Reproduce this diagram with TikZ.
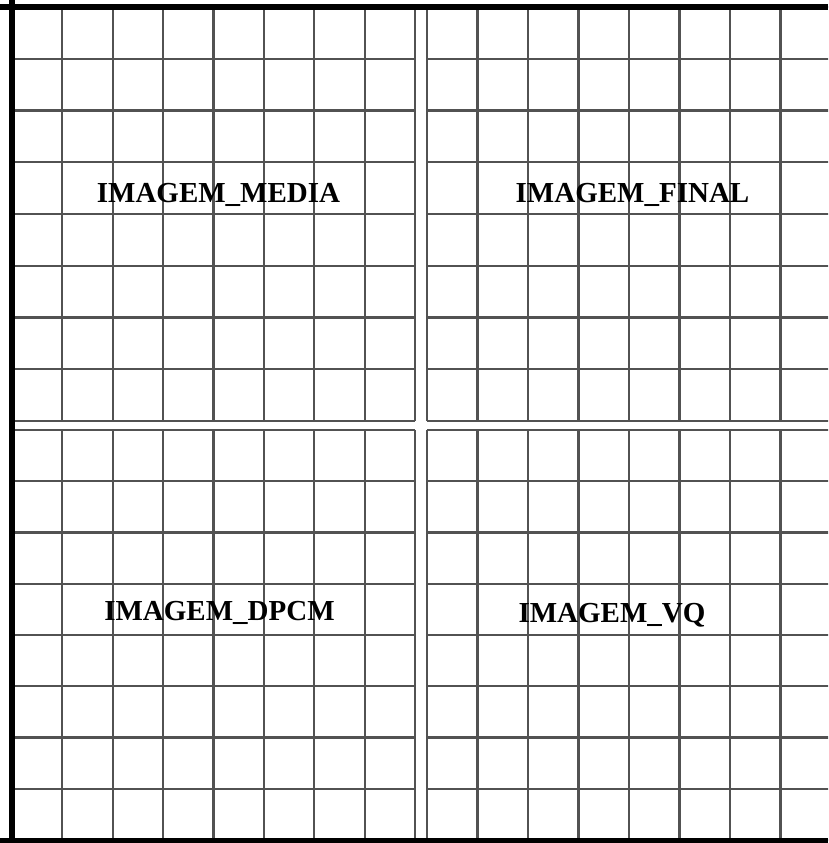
\documentclass[tikz,border=0pt]{standalone}
\usepackage{fontspec}
\setmainfont{Liberation Serif}
\tikzset{
  grade/.style={draw=black!68,line width=2.2pt},
  borda/.style={draw=black,line width=6pt},
  rotulo/.style={font=\bfseries\fontsize{29}{31}\selectfont,anchor=base,inner sep=0pt}
}
\begin{document}
\begin{tikzpicture}[x=1pt,y=-1pt]
\useasboundingbox (0,0) rectangle (828,843);
\clip (0,0) rectangle (828,843);

\foreach \xa/\ya/\xb/\yb in {12/7/415/421, 427/7/831/421, 12/430/415/840, 427/430/831/840} {
  \foreach \i in {0,...,8} {
    \pgfmathsetmacro\xx{\xa+\i*(\xb-\xa)/8}
    \pgfmathsetmacro\yy{\ya+\i*(\yb-\ya)/8}
    \draw[grade] (\xx,\ya) -- (\xx,\yb);
    \draw[grade] (\xa,\yy) -- (\xb,\yy);
  }
}

\draw[borda] (12,0) -- (12,843);
\draw[borda] (0,7) -- (828,7);
\draw[borda,line width=5pt] (0,840.5) -- (828,840.5);

\node[rotulo] (media) at (218.5,202) {IMAGEM\_MEDIA};
\node[rotulo] (final) at (632.5,202) {IMAGEM\_FINAL};
\node[rotulo] (dpcm) at (219.5,620) {IMAGEM\_DPCM};
\node[rotulo] (vq) at (612,622) {IMAGEM\_VQ};
\end{tikzpicture}
\end{document}
